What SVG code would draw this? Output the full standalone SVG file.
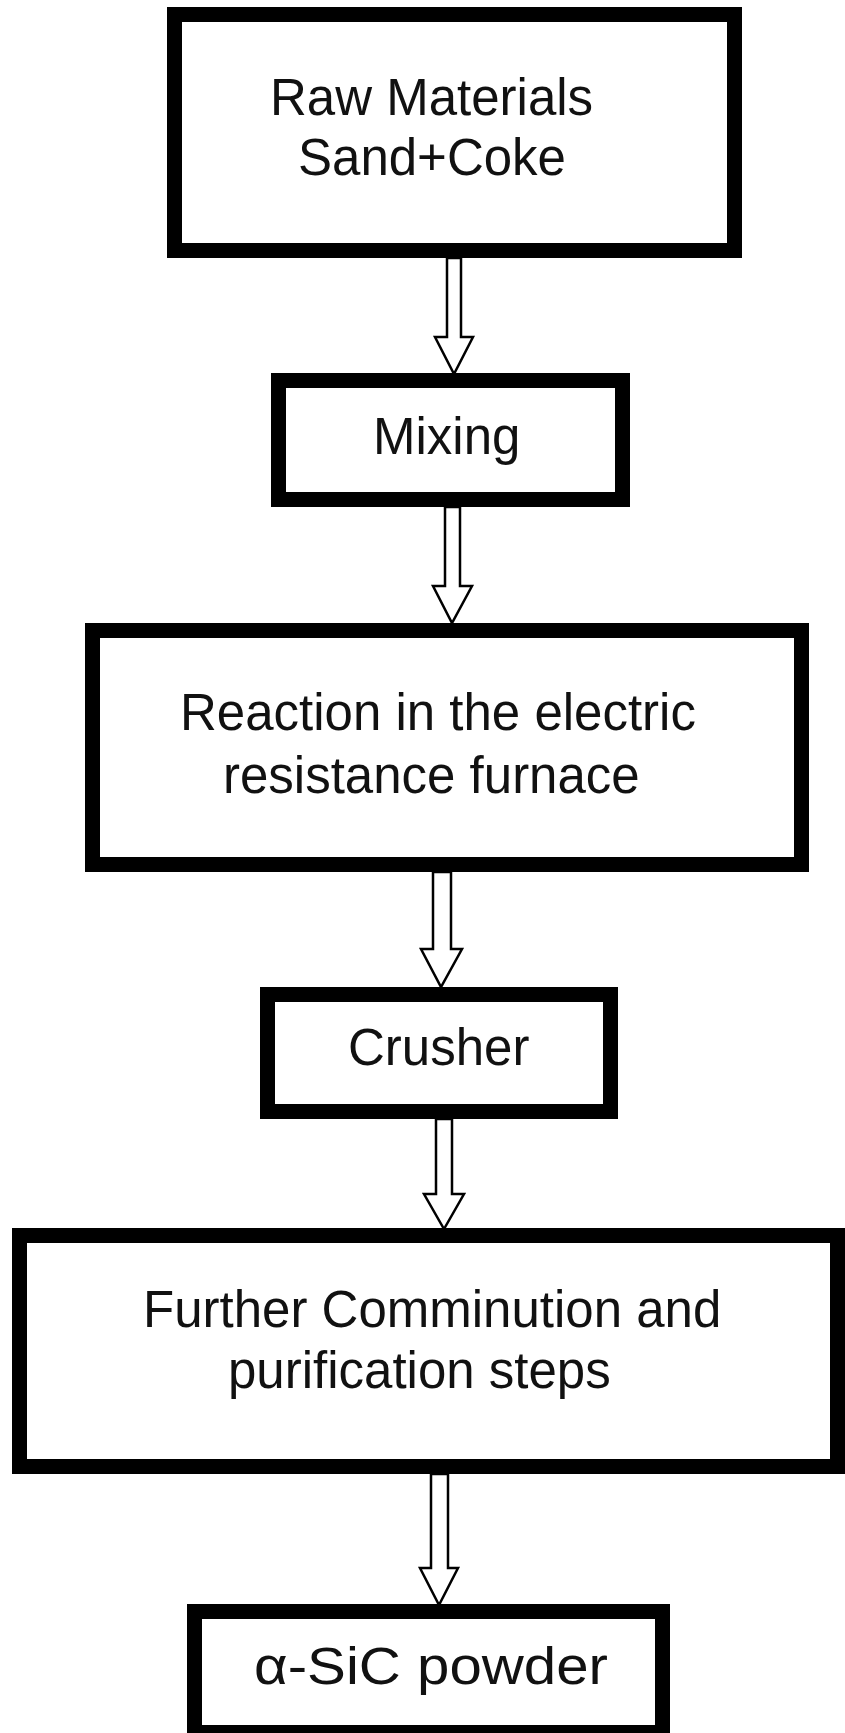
<svg xmlns="http://www.w3.org/2000/svg" width="845" height="1733" viewBox="0 0 845 1733">
<style>
.box{fill:#fff;stroke:#000;stroke-width:15}
.arr{fill:#fff;stroke:#000;stroke-width:2.5;stroke-linejoin:miter}
.t{font-family:"Liberation Sans",Arial,sans-serif;font-size:51px;fill:#111}
</style>
<rect width="845" height="1733" fill="#fff"/>
<g id="connectors">
<polygon class="arr" points="447,258 461,258 461,337 473,337 454,374 435,337 447,337"/>
<polygon class="arr" points="445,507 460,507 460,586 472,586 452,623 433,586 445,586"/>
<polygon class="arr" points="433,872 451,872 451,949 462,949 441,987 421,949 433,949"/>
<polygon class="arr" points="436,1119 452,1119 452,1194 464,1194 444,1229 424,1194 436,1194"/>
<polygon class="arr" points="431,1474 448,1474 448,1568 458,1568 439,1605 420,1568 431,1568"/>
</g>
<g id="n1">
<rect class="box" x="174.5" y="14.5" width="560" height="236"/>
<text class="t" x="270" y="115">Raw Materials</text>
<text class="t" x="298" y="175">Sand+Coke</text>
</g>
<g id="n2">
<rect class="box" x="278.5" y="380.5" width="344" height="119"/>
<text class="t" x="373" y="454">Mixing</text>
</g>
<g id="n3">
<rect class="box" x="92.5" y="630.5" width="709" height="234"/>
<text class="t" x="180" y="730">Reaction in the electric</text>
<text class="t" x="223" y="793">resistance furnace</text>
</g>
<g id="n4">
<rect class="box" x="267.5" y="994.5" width="343" height="117"/>
<text class="t" x="348" y="1065">Crusher</text>
</g>
<g id="n5">
<rect class="box" x="19.5" y="1235.5" width="818" height="231"/>
<text class="t" x="143" y="1327">Further Comminution and</text>
<text class="t" x="228" y="1388">purification steps</text>
</g>
<g id="n6">
<rect class="box" x="194.5" y="1611.5" width="468" height="121"/>
<text class="t" x="254" y="1684" textLength="354" lengthAdjust="spacingAndGlyphs">α-SiC powder</text>
</g>
</svg>
